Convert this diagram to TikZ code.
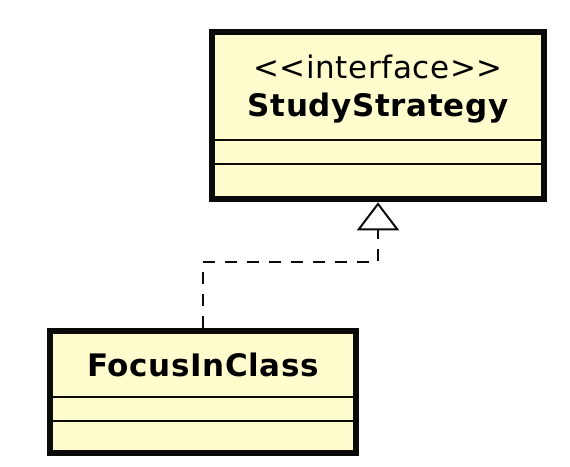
\documentclass[tikz,border=0pt]{standalone}
\usepackage{fontspec}
\setsansfont{DejaVu Sans}[LetterSpace=2]
\usepackage{tikz}
\usetikzlibrary{arrows.meta, positioning}
\definecolor{classfill}{RGB}{255,252,206}
\definecolor{classdraw}{RGB}{10,10,10}
\tikzset{
  classbox/.style={rectangle, draw=classdraw, fill=classfill, line width=6.5pt},
  compline/.style={line width=2pt, color=classdraw},
  stereo/.style={font=\sffamily\fontsize{31}{36}\selectfont, inner sep=0pt},
  classname/.style={font=\sffamily\bfseries\fontsize{31}{36}\selectfont, inner sep=0pt},
  realize/.style={-{Triangle[open, length=28pt, width=42pt, line width=2pt]},
    line width=2.5pt, dash pattern=on 12pt off 10pt, color=classdraw}
}

\begin{document}
\begin{tikzpicture}[x=1pt, y=-1pt]
  \useasboundingbox (0,0) rectangle (570,466);
  % interface
  \node[classbox, minimum width=332pt, minimum height=167pt] (strategy) at (378,115.5) {};
  \node[stereo] (stereotype) at (378,67) {{<}{<}interface{>}{>}};
  \node[classname] (strategyname) at (378,108) {StudyStrategy};
  \coordinate (s1) at (0,140);
  \coordinate (s2) at (0,164);
  \draw[compline] (strategy.west |- s1) -- (strategy.east |- s1);
  \draw[compline] (strategy.west |- s2) -- (strategy.east |- s2);
  % class
  \node[classbox, minimum width=306pt, minimum height=122pt] (focus) at (203,392) {};
  \node[classname] (focusname) at (203,365) {FocusInClass};
  \coordinate (f1) at (0,397);
  \coordinate (f2) at (0,421);
  \draw[compline] (focus.west |- f1) -- (focus.east |- f1);
  \draw[compline] (focus.west |- f2) -- (focus.east |- f2);
  % realization
  \coordinate (elbow) at (0,262);
  \draw[realize] (focus.north) |- (elbow -| strategy.south) -- (strategy.south);
\end{tikzpicture}
\end{document}
